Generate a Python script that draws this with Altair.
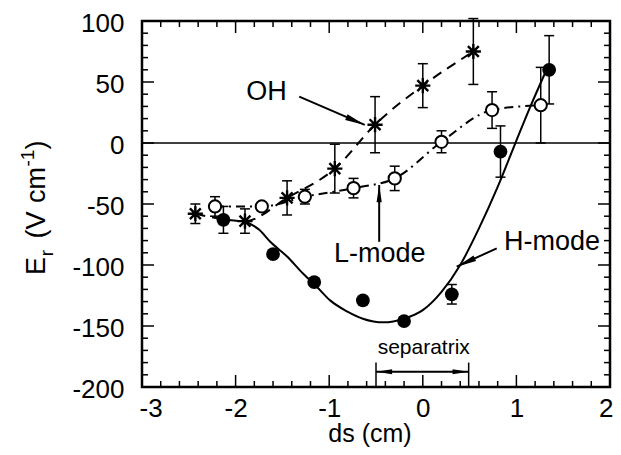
import altair as alt
import pandas as pd

# ---------------- data ----------------
# OH (asterisks, dashed line)
oh_x = [-2.43, -1.90, -1.45, -0.94, -0.51, 0.00, 0.54]
oh_y = [-58, -64, -45, -21, 15, 47, 75]
oh_err = [8, 10, 14, 20, 23, 18, 27]

# L-mode (open circles, dash-dot line)
l_x = [-2.22, -1.72, -1.26, -0.74, -0.30, 0.20, 0.74, 1.26]
l_y = [-52, -52, -44, -37, -29, 1, 27, 31]
l_err = [8, 0, 6, 8, 10, 9, 15, 31]

# H-mode (filled circles)
h_x = [-2.13, -1.60, -1.16, -0.64, -0.20, 0.31, 0.83, 1.35]
h_y = [-63, -91, -114, -129, -146, -124, -7, 60]
h_err = [11, 0, 0, 0, 0, 8, 21, 28]

# H-mode fitted curve (solid)
fit_x = [-1.90, -1.75, -1.63, -1.45, -1.28, -1.13, -0.99, -0.81, -0.64, -0.42,
         -0.20, 0.00, 0.20, 0.40, 0.60, 0.80, 1.00, 1.15, 1.31]
fit_y = [-64, -71, -81, -93, -107, -118, -129, -138, -144, -147,
         -144, -137, -122, -100, -70, -36, 2, 30, 58]

# axis ticks
x_labels = [-3, -2, -1, 0, 1, 2]
y_labels = [-200, -150, -100, -50, 0, 50, 100]
x_major = [-2, -1, 0, 1]
x_minor = [-2.8, -2.6, -2.4, -2.2, -1.8, -1.6, -1.4, -1.2, -0.8, -0.6, -0.4, -0.2,
           0.2, 0.4, 0.6, 0.8, 1.2, 1.4, 1.6, 1.8]
y_major = [-150, -100, -50, 0, 50]
y_minor = [v for v in range(-190, 100, 10) if v % 50 != 0]

# annotations
ann_text = ["OH", "L-mode", "H-mode"]
ann_x = [-1.67, -0.46, 1.38]
ann_y = [42, -91, -81]
sep_text = ["separatrix"]
sep_tx = [0.01]
sep_ty = [-168]
sep_x = [-0.50, 0.49]
sep_bar = [-180, -200]

arr_x1 = [-1.32, -0.466, 0.79, -0.50]
arr_y1 = [38, -81, -86.3, -187.5]
arr_x2 = [-0.62, -0.466, 0.362, 0.49]
arr_y2 = [14.8, -34.4, -101.4, -187.5]
head_x = [-0.62, -0.466, 0.362, -0.50, 0.49]
head_y = [14.8, -34.4, -101.4, -187.5, -187.5]
head_a = [113, 0, 245, 270, 90]
head_s = [400, 300, 400, 260, 260]

# y-axis title pieces: E_r (V cm^-1)
yt_text = ["E", "r", "(V", "cm", "-1", ")"]
yt_size = [27, 19, 27, 27, 19, 27]
yt_dx = [0, 10, 0, 0, -9, 0]
yt_pos = [266, 253, 225, 185, 158, 145]

# ---------------- chart ----------------
W, H = 468, 366
FONT = "Liberation Sans"
xs = alt.Scale(domain=[-3, 2], nice=False, zero=False)
ys = alt.Scale(domain=[-200, 100], nice=False, zero=False)
xaxis = alt.Axis(values=x_labels, ticks=False, domain=False, grid=False, title=None,
                 labelFont=FONT, labelFontSize=26, labelColor="black", labelPadding=8,
                 labelFlush=True, labelFlushOffset=3, labelExpr="'' + datum.value")
yaxis = alt.Axis(values=y_labels, ticks=False, domain=False, grid=False, title=None,
                 labelFont=FONT, labelFontSize=26, labelColor="black", labelPadding=18,
                 labelOffset=2, labelExpr="'' + datum.value")


def X(f):
    return alt.X(f, type="quantitative", scale=xs, axis=xaxis)


def Y(f):
    return alt.Y(f, type="quantitative", scale=ys, axis=yaxis)


def errdf(xv, yv, ev):
    rows = [{"x": a, "lo": b - e, "hi": b + e} for a, b, e in zip(xv, yv, ev) if e > 0]
    return pd.DataFrame(rows)


oh = pd.DataFrame({"x": oh_x, "y": oh_y})
lm = pd.DataFrame({"x": l_x, "y": l_y})
hm = pd.DataFrame({"x": h_x, "y": h_y})
fit = pd.DataFrame({"x": fit_x, "y": fit_y})
err = pd.concat([errdf(oh_x, oh_y, oh_err), errdf(l_x, l_y, l_err), errdf(h_x, h_y, h_err)])

layers = []

# zero line
layers.append(alt.Chart(pd.DataFrame({"y": [0]})).mark_rule(color="black", strokeWidth=1.5)
              .encode(y=Y("y"), x=alt.value(0), x2=alt.value(W)))


# ticks (inward, all four sides)
def xt(vals, L):
    d = pd.DataFrame({"v": vals})
    b = alt.Chart(d).mark_rule(color="black", strokeWidth=1.5).encode(x=X("v"), y=alt.value(H), y2=alt.value(H - L))
    t = alt.Chart(d).mark_rule(color="black", strokeWidth=1.5).encode(x=X("v"), y=alt.value(0), y2=alt.value(L))
    return [b, t]


def yt(vals, L):
    d = pd.DataFrame({"v": vals})
    l = alt.Chart(d).mark_rule(color="black", strokeWidth=1.5).encode(y=Y("v"), x=alt.value(0), x2=alt.value(L))
    r = alt.Chart(d).mark_rule(color="black", strokeWidth=1.5).encode(y=Y("v"), x=alt.value(W), x2=alt.value(W - L))
    return [l, r]


layers += xt(x_major, 12) + xt(x_minor, 6) + yt(y_major, 12) + yt(y_minor, 6)

# lines
layers.append(alt.Chart(fit).mark_line(color="black", strokeWidth=2, interpolate="monotone")
              .encode(x=X("x"), y=Y("y")))
layers.append(alt.Chart(oh).mark_line(color="black", strokeWidth=2, strokeDash=[10, 7], interpolate="monotone")
              .encode(x=X("x"), y=Y("y")))
layers.append(alt.Chart(lm).mark_line(color="black", strokeWidth=2, strokeDash=[9, 5, 2, 5], interpolate="monotone")
              .encode(x=X("x"), y=Y("y")))

# error bars
layers.append(alt.Chart(err).mark_rule(color="black", strokeWidth=1.5)
              .encode(x=X("x"), y=Y("lo"), y2=alt.Y2("hi")))
for f in ["lo", "hi"]:
    layers.append(alt.Chart(err).mark_rule(color="black", strokeWidth=1.5, xOffset=-5, x2Offset=5)
                  .encode(x=X("x"), x2=alt.X2("x"), y=Y(f)))

# markers
star = "M-1,0L1,0M0,-1L0,1M-0.72,-0.72L0.72,0.72M-0.72,0.72L0.72,-0.72"
layers.append(alt.Chart(oh).mark_point(shape=star, size=230, color="black", strokeWidth=2.4, filled=False, opacity=1)
              .encode(x=X("x"), y=Y("y")))
layers.append(alt.Chart(lm).mark_point(shape="circle", size=150, stroke="black", fill="white", strokeWidth=2, filled=False, opacity=1, fillOpacity=1)
              .encode(x=X("x"), y=Y("y")))
layers.append(alt.Chart(hm).mark_point(shape="circle", size=190, color="black", filled=True, opacity=1)
              .encode(x=X("x"), y=Y("y")))

# annotation arrows
arr = pd.DataFrame({"x1": arr_x1, "y1": arr_y1, "x2": arr_x2, "y2": arr_y2})
layers.append(alt.Chart(arr).mark_rule(color="black", strokeWidth=2)
              .encode(x=X("x1"), y=Y("y1"), x2=alt.X2("x2"), y2=alt.Y2("y2")))
heads = pd.DataFrame({"x": head_x, "y": head_y, "a": head_a, "s": head_s})
head = "M0,0L-0.3,2L0.3,2Z"
layers.append(alt.Chart(heads).mark_point(shape=head, color="black", filled=True, opacity=1)
              .encode(x=X("x"), y=Y("y"), angle=alt.Angle("a:Q", scale=None), size=alt.Size("s:Q", scale=None, legend=None)))
bars = pd.DataFrame({"x": sep_x, "lo": [sep_bar[1]] * 2, "hi": [sep_bar[0]] * 2})
layers.append(alt.Chart(bars).mark_rule(color="black", strokeWidth=1.5)
              .encode(x=X("x"), y=Y("lo"), y2=alt.Y2("hi")))

# annotation texts
ann = pd.DataFrame({"t": ann_text, "x": ann_x, "y": ann_y})
layers.append(alt.Chart(ann).mark_text(font=FONT, fontSize=27, color="black", align="center", baseline="middle")
              .encode(x=X("x"), y=Y("y"), text="t:N"))
sep = pd.DataFrame({"t": sep_text, "x": sep_tx, "y": sep_ty})
layers.append(alt.Chart(sep).mark_text(font=FONT, fontSize=21, color="black", align="center", baseline="middle")
              .encode(x=X("x"), y=Y("y"), text="t:N"))

# x-axis title
layers.append(alt.Chart(pd.DataFrame({"t": ["ds (cm)"]})).mark_text(font=FONT, fontSize=25, color="black", align="center", baseline="middle")
              .encode(text="t:N", x=alt.value(W / 2 - 6), y=alt.value(434 - 21)))
# y-axis title, drawn piece by piece (page coordinates -> plot coordinates)
ytd = pd.DataFrame({"t": yt_text, "s": yt_size,
                    "px": [37 - 142 + d for d in yt_dx],
                    "py": [p - 21 for p in yt_pos]})
layers.append(alt.Chart(ytd).mark_text(font=FONT, color="black", align="center", baseline="middle", angle=270)
              .encode(text="t:N",
                      x=alt.X("px:Q", scale=None, axis=None),
                      y=alt.Y("py:Q", scale=None, axis=None),
                      size=alt.Size("s:Q", scale=None, legend=None)))

chart = alt.layer(*layers).properties(
    width=W, height=H, autosize="none",
    padding={"left": 134, "top": 13, "right": 3, "bottom": 60},
    background="white",
).resolve_scale(x="shared", y="shared").configure_view(stroke="black", strokeWidth=2.5)

chart.save("out.html", embed_options={"renderer": "svg", "actions": False})
